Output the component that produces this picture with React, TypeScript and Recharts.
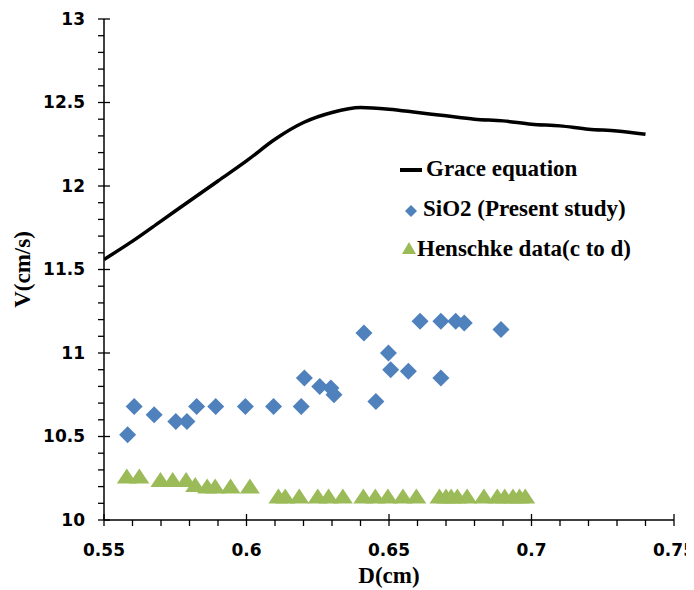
import React from "react";
import { ComposedChart, Line, Scatter, XAxis, YAxis, Legend, Label } from "recharts";

// Grace equation curve
const graceD = [0.55, 0.56, 0.57, 0.58, 0.59, 0.6, 0.61, 0.62, 0.63, 0.64, 0.65, 0.66, 0.67, 0.68, 0.69, 0.7, 0.71, 0.72, 0.73, 0.74];
const graceV = [11.56, 11.67, 11.79, 11.91, 12.03, 12.15, 12.28, 12.38, 12.44, 12.47, 12.46, 12.44, 12.42, 12.4, 12.39, 12.37, 12.36, 12.34, 12.33, 12.31];

// SiO2 (present study)
const sio2D = [0.5583, 0.5606, 0.5676, 0.5752, 0.5791, 0.5825, 0.5892, 0.5996, 0.6095, 0.6192, 0.6203, 0.6257, 0.6296, 0.6307, 0.6412, 0.6454, 0.6498, 0.6506, 0.6568, 0.6609, 0.6682, 0.6734, 0.6764, 0.6893, 0.6682];
const sio2V = [10.51, 10.68, 10.63, 10.59, 10.59, 10.68, 10.68, 10.68, 10.68, 10.68, 10.85, 10.8, 10.79, 10.75, 11.12, 10.71, 11.0, 10.9, 10.89, 11.19, 11.19, 11.19, 11.18, 11.14, 10.85];

// Henschke data (c to d)
const henD = [0.558, 0.5624, 0.5698, 0.5741, 0.5788, 0.582, 0.5862, 0.589, 0.5944, 0.6012, 0.6112, 0.6136, 0.6185, 0.625, 0.6288, 0.6338, 0.641, 0.6452, 0.6496, 0.6549, 0.6596, 0.6677, 0.67, 0.6718, 0.674, 0.6774, 0.6833, 0.688, 0.6906, 0.6935, 0.6958, 0.6978];
const henV = [10.26, 10.26, 10.24, 10.24, 10.24, 10.21, 10.2, 10.2, 10.2, 10.2, 10.14, 10.14, 10.14, 10.14, 10.14, 10.14, 10.14, 10.14, 10.14, 10.14, 10.14, 10.14, 10.14, 10.14, 10.14, 10.14, 10.14, 10.14, 10.14, 10.14, 10.14, 10.14];

const xTicks = [0.55, 0.56, 0.57, 0.58, 0.59, 0.6, 0.61, 0.62, 0.63, 0.64, 0.65, 0.66, 0.67, 0.68, 0.69, 0.7, 0.71, 0.72, 0.73, 0.74, 0.75];
const xMajor = [0.55, 0.6, 0.65, 0.7, 0.75];
const yTicks = [10, 10.1, 10.2, 10.3, 10.4, 10.5, 10.6, 10.7, 10.8, 10.9, 11, 11.1, 11.2, 11.3, 11.4, 11.5, 11.6, 11.7, 11.8, 11.9, 12, 12.1, 12.2, 12.3, 12.4, 12.5, 12.6, 12.7, 12.8, 12.9, 13];
const yMajor = [10, 10.5, 11, 11.5, 12, 12.5, 13];

const seriesNames = ["Grace equation", "SiO2 (Present study)", "Henschke data(c to d)"];

const toRows = (ds: number[], vs: number[]) => ds.map((d, i) => ({ d, v: vs[i] }));
const graceData = toRows(graceD, graceV);
const sio2Data = toRows(sio2D, sio2V);
const henData = toRows(henD, henV);

const BLUE = "#4F81BD";
const GREEN = "#9BBB59";
const NUM_FONT = '"DejaVu Sans", Verdana, sans-serif';
const SERIF = '"Liberation Serif", "Times New Roman", serif';

const isMajor = (list: number[], v: number) => list.some((m) => Math.abs(m - v) < 1e-6);

const XTick = (props: any) => {
  const { x, y, payload } = props;
  const major = isMajor(xMajor, payload.value);
  return (
    <g>
      <line x1={x} x2={x} y1={major ? y - 6 : y} y2={y + 6} stroke="#000" strokeWidth={1.3} />
      {major && (
        <text x={x} y={y + 30} dy="0.35em" textAnchor="middle" fontFamily={NUM_FONT} fontWeight="bold" fontSize={17} fill="#000">
          {payload.value}
        </text>
      )}
    </g>
  );
};

const YTick = (props: any) => {
  const { x, y, payload } = props;
  const major = isMajor(yMajor, payload.value);
  return (
    <g>
      <line x1={x - 6} x2={major ? x + 6 : x} y1={y} y2={y} stroke="#000" strokeWidth={1.3} />
      {major && (
        <text x={x - 19} y={y} dy="0.35em" textAnchor="end" fontFamily={NUM_FONT} fontWeight="bold" fontSize={17} fill="#000">
          {payload.value}
        </text>
      )}
    </g>
  );
};

const Diamond = (props: any) => {
  const { cx, cy } = props;
  const r = 8.5;
  return <polygon points={`${cx},${cy - r} ${cx + r},${cy} ${cx},${cy + r} ${cx - r},${cy}`} fill={BLUE} />;
};

const Triangle = (props: any) => {
  const { cx, cy } = props;
  return <polygon points={`${cx},${cy - 8} ${cx + 10},${cy + 7} ${cx - 10},${cy + 7}`} fill={GREEN} />;
};

const renderLegend = () => {
  const row: React.CSSProperties = {
    position: "absolute",
    height: 40,
    lineHeight: "40px",
    fontFamily: SERIF,
    fontWeight: "bold",
    fontSize: 23,
    color: "#000",
    whiteSpace: "nowrap",
  };
  return (
    <div style={{ position: "relative", width: 300, height: 130 }}>
      <div style={{ ...row, top: 0, left: 34 }}>{seriesNames[0]}</div>
      <svg style={{ position: "absolute", left: 8, top: 18 }} width={24} height={8}>
        <rect x={0} y={1} width={22} height={4} fill="#000" />
      </svg>
      <div style={{ ...row, top: 40, left: 31 }}>{seriesNames[1]}</div>
      <svg style={{ position: "absolute", left: 13, top: 56 }} width={12} height={12}>
        <polygon points="6,0 12,6 6,12 0,6" fill={BLUE} />
      </svg>
      <div style={{ ...row, top: 80, left: 25 }}>{seriesNames[2]}</div>
      <svg style={{ position: "absolute", left: 10, top: 93 }} width={14} height={12}>
        <polygon points="7,0 14,12 0,12" fill={GREEN} />
      </svg>
    </div>
  );
};

export default function App() {
  return (
    <ComposedChart width={686} height={582} margin={{ top: 11, right: 20, bottom: 0, left: 0 }}>
      <XAxis
        type="number"
        dataKey="d"
        domain={[0.55, 0.75]}
        ticks={xTicks}
        interval={0}
        allowDataOverflow
        height={70}
        tickSize={0}
        tickMargin={0}
        tickLine={false}
        tick={<XTick />}
        axisLine={{ stroke: "#000", strokeWidth: 1.5 }}
      >
        <Label
          content={(p: any) => {
            const vb = p.viewBox;
            return (
              <text x={vb.x + vb.width / 2} y={vb.y + 63} textAnchor="middle" fontFamily={SERIF} fontWeight="bold" fontSize={23} fill="#000">
                D(cm)
              </text>
            );
          }}
        />
      </XAxis>
      <YAxis
        type="number"
        domain={[10, 13]}
        ticks={yTicks}
        interval={0}
        allowDataOverflow
        width={96}
        tickSize={0}
        tickMargin={0}
        tickLine={false}
        tick={<YTick />}
        axisLine={{ stroke: "#000", strokeWidth: 1.5 }}
      >
        <Label
          content={(p: any) => {
            const vb = p.viewBox;
            const cx = vb.x + 14;
            const cy = vb.y + vb.height / 2;
            return (
              <text x={cx} y={cy} dy="0.35em" textAnchor="middle" transform={`rotate(-90 ${cx} ${cy})`} fontFamily={SERIF} fontWeight="bold" fontSize={23} fill="#000">
                V(cm/s)
              </text>
            );
          }}
        />
      </YAxis>
      <Legend
        layout="vertical"
        align="center"
        verticalAlign="middle"
        content={renderLegend}
        wrapperStyle={{ left: 384, top: 141, width: 300 }}
      />
      <Line
        name={seriesNames[0]}
        data={graceData}
        dataKey="v"
        type="monotone"
        stroke="#000"
        strokeWidth={3.5}
        dot={false}
        isAnimationActive={false}
      />
      <Scatter name={seriesNames[1]} data={sio2Data} dataKey="v" shape={<Diamond />} isAnimationActive={false} />
      <Scatter name={seriesNames[2]} data={henData} dataKey="v" shape={<Triangle />} isAnimationActive={false} />
    </ComposedChart>
  );
}
